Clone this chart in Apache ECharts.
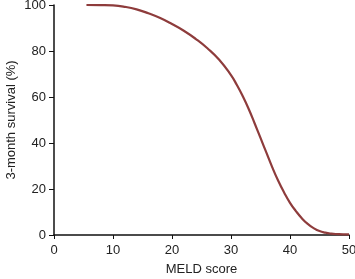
<!DOCTYPE html>
<html><head><meta charset="utf-8">
<script src="https://cdn.jsdelivr.net/npm/echarts@6/dist/echarts.min.js"></script>
<style>html,body{margin:0;padding:0;background:#fff}#c{width:355px;height:279px}</style>
</head><body><div id="c"></div>
<script>
const meldScores = [5.5, 8, 10, 12, 14, 16, 18, 20, 22, 24, 26, 28, 30, 31, 32, 33, 34, 35, 36, 37, 38, 39, 40, 41, 42, 43, 44, 45, 46, 47, 48, 49, 50];
const survival =   [100, 99.95, 99.8, 99.2, 98.1, 96.4, 94.3, 91.7, 88.8, 85.3, 81.2, 76.2, 69.5, 65.2, 60.3, 54.8, 48.6, 42.2, 35.8, 29.4, 23.6, 18.5, 14.0, 10.4, 7.3, 4.8, 3.0, 1.7, 1.0, 0.6, 0.4, 0.3, 0.3];
const xTicks = [0, 10, 20, 30, 40, 50];
const yTicks = [0, 20, 40, 60, 80, 100];
const points = meldScores.map((x, i) => [x, survival[i]]);
const font = 'Liberation Sans, Arial, sans-serif';
const chart = echarts.init(document.getElementById('c'), null, {renderer: 'canvas'});
chart.setOption({
  animation: false,
  grid: {left: 54, right: 6, top: 5, bottom: 44, containLabel: false, outerBoundsMode: 'none'},
  xAxis: {
    type: 'value', min: xTicks[0], max: xTicks[xTicks.length - 1], interval: 10,
    name: 'MELD score', nameLocation: 'middle', nameGap: 28, nameMoveOverlap: false,
    nameTextStyle: {fontFamily: font, fontSize: 13, color: '#222'},
    axisLine: {lineStyle: {color: '#111', width: 1.5}},
    axisTick: {show: true, length: 4, lineStyle: {color: '#111'}},
    axisLabel: {fontFamily: font, fontSize: 13, color: '#222', margin: 9},
    splitLine: {show: false}
  },
  yAxis: {
    type: 'value', min: yTicks[0], max: yTicks[yTicks.length - 1], interval: 20,
    name: '3-month survival (%)', nameLocation: 'middle', nameGap: 36, nameMoveOverlap: false,
    nameTextStyle: {fontFamily: font, fontSize: 13, color: '#222'},
    axisLine: {show: true, lineStyle: {color: '#111', width: 1.5}},
    axisTick: {show: true, length: 5, lineStyle: {color: '#111'}},
    axisLabel: {fontFamily: font, fontSize: 13, color: '#222', margin: 8},
    splitLine: {show: false}
  },
  series: [{
    type: 'line', data: points, smooth: true, showSymbol: false,
    lineStyle: {color: '#8e3c3c', width: 2.2}
  }]
});
</script></body></html>
